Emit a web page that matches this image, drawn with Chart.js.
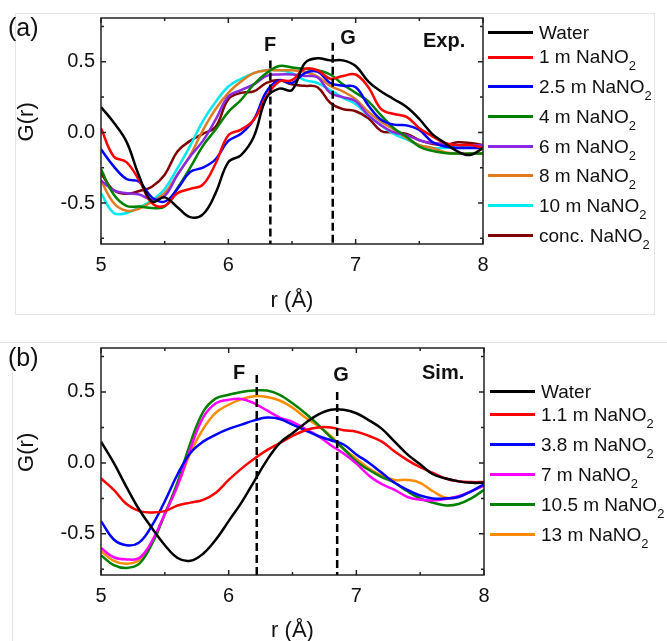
<!DOCTYPE html>
<html>
<head>
<meta charset="utf-8">
<script src="https://cdn.jsdelivr.net/npm/chart.js@4.4.0/dist/chart.umd.min.js"></script>
<style>
  html, body { margin: 0; padding: 0; background: #fff; }
  body { width: 667px; height: 641px; position: relative; overflow: hidden; font-family: "Liberation Sans", Arial, sans-serif; color: #111; }
  .panel { position: absolute; left: 0; width: 667px; height: 320px; }
  .panel canvas { position: absolute; left: 0; top: 0; }
  .tag { position: absolute; left: 8px; font-size: 25px; line-height: 1; }
  .note { position: absolute; font-weight: bold; font-size: 20px; line-height: 1; white-space: nowrap; }
  .center { transform: translateX(-50%); }
  .legend { position: absolute; font-size: 19px; }
  .legend .row { position: absolute; left: 0; height: 0; display: flex; align-items: center; white-space: nowrap; }
  .legend .swatch { display: inline-block; width: 45px; height: 3px; margin-right: 6px; }
  .legend .txt { line-height: 1; }
  .legend sub { font-size: 0.68em; vertical-align: -0.55em; line-height: 0; }
  .frameA { position: absolute; left: 15px; top: 13px; width: 638px; height: 300px; border: 1px solid #e4e4e4; }
  .lineB { position: absolute; left: 0; top: 342px; width: 667px; height: 0; border-top: 1px solid #e4e4e4; }
  .sideB { position: absolute; left: 12px; top: 372px; width: 0; height: 269px; border-left: 1px solid #e4e4e4; }
</style>
</head>
<body>
<div class="frameA"></div>
<div class="lineB"></div>
<div class="sideB"></div>

<div class="panel" style="top:0"><canvas id="chartA" width="667" height="320"></canvas></div>
<div class="panel" style="top:330px"><canvas id="chartB" width="667" height="320"></canvas></div>

<div class="tag" style="top:15px">(a)</div>
<div class="tag" style="top:345px">(b)</div>

<div class="note center" style="left:270px; top:34px">F</div>
<div class="note center" style="left:348px; top:27px">G</div>
<div class="note" style="left:423px; top:30px">Exp.</div>
<div class="note center" style="left:239px; top:362px">F</div>
<div class="note center" style="left:341px; top:364px">G</div>
<div class="note" style="left:422px; top:362px">Sim.</div>

<div class="legend" id="legendA" style="left:488px; top:32px"></div>
<div class="legend" id="legendB" style="left:490px; top:391px"></div>

<script>
// shared r grid (Å)
const r = [5.0, 5.1, 5.2, 5.3, 5.4, 5.5, 5.6, 5.7, 5.8, 5.9, 6.0, 6.1, 6.2, 6.3, 6.4, 6.5,
           6.6, 6.7, 6.8, 6.9, 7.0, 7.1, 7.2, 7.3, 7.4, 7.5, 7.6, 7.7, 7.8, 7.9, 8.0];

const xTicks = [5, 6, 7, 8];
const xMinor = [5.5, 6.5, 7.5];
const yTicks = [-0.5, 0, 0.5];
const yMinor = [-0.75, -0.25, 0.25, 0.75];

// (a) experiment
const namesA = ['Water', '1 m NaNO2', '2.5 m NaNO2', '4 m NaNO2', '6 m NaNO2', '8 m NaNO2', '10 m NaNO2', 'conc. NaNO2'];
const colorsA = ['#000000', '#ff0000', '#0000ff', '#008000', '#8a2be2', '#e07a1f', '#00e8f0', '#800000'];
const waterA = [0.18, 0.07, -0.065, -0.31, -0.49, -0.46, -0.53, -0.60, -0.58, -0.43, -0.21, -0.16, -0.03, 0.245, 0.31, 0.30,
                0.49, 0.525, 0.51, 0.51, 0.47, 0.36, 0.29, 0.235, 0.18, 0.095, -0.01, -0.075, -0.135, -0.16, -0.11];
const m1A = [0.03, -0.17, -0.21, -0.34, -0.50, -0.52, -0.43, -0.40, -0.37, -0.22, -0.02, 0.02, 0.09, 0.255, 0.36, 0.37,
             0.45, 0.44, 0.38, 0.40, 0.41, 0.32, 0.165, 0.13, 0.11, 0.03, -0.026, -0.075, -0.09, -0.09, -0.11];
const m25A = [-0.12, -0.24, -0.33, -0.35, -0.46, -0.49, -0.40, -0.28, -0.25, -0.19, -0.06, -0.01, 0.09, 0.29, 0.37, 0.35,
              0.42, 0.43, 0.35, 0.33, 0.32, 0.19, 0.09, 0.055, 0.05, 0.017, -0.066, -0.10, -0.11, -0.11, -0.11];
const m4A = [-0.26, -0.44, -0.52, -0.525, -0.535, -0.525, -0.395, -0.25, -0.095, 0.02, 0.145, 0.23, 0.34, 0.42, 0.47, 0.46,
             0.45, 0.44, 0.41, 0.34, 0.28, 0.22, 0.12, 0.03, -0.03, -0.10, -0.13, -0.145, -0.15, -0.15, -0.15];
const m6A = [-0.34, -0.41, -0.43, -0.44, -0.475, -0.45, -0.30, -0.17, -0.06, 0.09, 0.255, 0.30, 0.34, 0.40, 0.41, 0.41,
             0.40, 0.39, 0.28, 0.25, 0.22, 0.12, 0.05, 0.0, -0.02, -0.055, -0.075, -0.08, -0.09, -0.09, -0.09];
const m8A = [-0.34, -0.50, -0.555, -0.54, -0.49, -0.43, -0.30, -0.165, 0.015, 0.165, 0.28, 0.36, 0.42, 0.44, 0.44, 0.44,
             0.43, 0.395, 0.33, 0.29, 0.235, 0.145, 0.075, 0.02, -0.04, -0.09, -0.11, -0.14, -0.15, -0.15, -0.15];
const m10A = [-0.43, -0.57, -0.57, -0.53, -0.48, -0.40, -0.255, -0.095, 0.08, 0.215, 0.325, 0.38, 0.42, 0.44, 0.44, 0.42,
              0.37, 0.35, 0.30, 0.245, 0.20, 0.12, 0.05, -0.01, -0.05, -0.09, -0.11, -0.11, -0.105, -0.10, -0.10];
const concA = [-0.29, -0.41, -0.435, -0.415, -0.385, -0.30, -0.135, -0.06, -0.01, 0.04, 0.235, 0.28, 0.29, 0.35, 0.37, 0.34,
               0.33, 0.32, 0.21, 0.165, 0.15, 0.10, 0.01, 0.0, -0.01, -0.055, -0.08, -0.09, -0.07, -0.075, -0.09];
const markRA = [6.33, 6.82];
const markTopA = [0.51, 0.635];

// (b) simulation
const namesB = ['Water', '1.1 m NaNO2', '3.8 m NaNO2', '7 m NaNO2', '10.5 m NaNO2', '13 m NaNO2'];
const colorsB = ['#000000', '#ff0000', '#0000ff', '#ff00ff', '#008000', '#ff8c00'];
const waterB = [0.15, 0.0, -0.17, -0.33, -0.46, -0.58, -0.67, -0.69, -0.64, -0.54, -0.41, -0.28, -0.13, 0.02, 0.14, 0.21,
                0.28, 0.34, 0.375, 0.375, 0.35, 0.30, 0.24, 0.15, 0.06, -0.01, -0.08, -0.11, -0.13, -0.14, -0.14];
const m11B = [-0.11, -0.19, -0.29, -0.34, -0.35, -0.34, -0.30, -0.28, -0.26, -0.21, -0.12, -0.04, 0.03, 0.09, 0.14, 0.19,
              0.23, 0.25, 0.25, 0.23, 0.22, 0.19, 0.15, 0.08, 0.02, -0.03, -0.07, -0.11, -0.13, -0.135, -0.135];
const m38B = [-0.41, -0.54, -0.58, -0.56, -0.44, -0.27, -0.08, 0.07, 0.15, 0.20, 0.24, 0.27, 0.30, 0.32, 0.31, 0.27,
              0.23, 0.19, 0.16, 0.13, 0.06, 0.0, -0.07, -0.14, -0.19, -0.23, -0.25, -0.25, -0.24, -0.20, -0.15];
const m7B = [-0.60, -0.665, -0.68, -0.67, -0.55, -0.36, -0.16, 0.10, 0.32, 0.42, 0.445, 0.45, 0.42, 0.37, 0.32, 0.29,
             0.24, 0.19, 0.125, 0.066, -0.005, -0.09, -0.15, -0.19, -0.24, -0.26, -0.265, -0.255, -0.235, -0.20, -0.16];
const m105B = [-0.65, -0.72, -0.74, -0.71, -0.57, -0.36, -0.135, 0.14, 0.36, 0.455, 0.48, 0.50, 0.51, 0.51, 0.48, 0.42,
               0.35, 0.27, 0.18, 0.10, 0.01, -0.05, -0.10, -0.14, -0.20, -0.25, -0.28, -0.30, -0.29, -0.25, -0.19];
const m13B = [-0.62, -0.69, -0.71, -0.685, -0.56, -0.36, -0.16, 0.07, 0.24, 0.355, 0.41, 0.45, 0.47, 0.465, 0.44, 0.39,
              0.32, 0.26, 0.19, 0.10, 0.03, -0.04, -0.09, -0.12, -0.12, -0.14, -0.20, -0.245, -0.24, -0.20, -0.16];
const markRB = [6.22, 6.85];
const markTopB = [0.62, 0.50];

Chart.defaults.font.family = '"Liberation Sans", Arial, sans-serif';
Chart.defaults.color = '#111';

// box, inward ticks on all sides, dashed F/G markers
const framePlugin = {
  id: 'framePlugin',
  afterDatasetsDraw(chart, args, opts) {
    const { ctx, chartArea: a, scales: { x, y } } = chart;
    ctx.save();
    ctx.strokeStyle = '#000';
    ctx.lineWidth = 2.5;
    ctx.setLineDash([8, 4]);
    opts.markR.forEach((rv, i) => {
      const px = x.getPixelForValue(rv);
      ctx.beginPath();
      ctx.moveTo(px, y.getPixelForValue(opts.markTop[i]));
      ctx.lineTo(px, a.bottom);
      ctx.stroke();
    });
    ctx.setLineDash([]);

    ctx.strokeStyle = '#222';
    ctx.lineWidth = 1.5;
    ctx.strokeRect(a.left, a.top, a.right - a.left, a.bottom - a.top);

    const tick = (vals, len, horizontal) => {
      vals.forEach(v => {
        ctx.beginPath();
        if (horizontal) {
          const px = x.getPixelForValue(v);
          ctx.moveTo(px, a.bottom); ctx.lineTo(px, a.bottom - len);
          ctx.moveTo(px, a.top); ctx.lineTo(px, a.top + len);
        } else {
          const py = y.getPixelForValue(v);
          ctx.moveTo(a.left, py); ctx.lineTo(a.left + len, py);
          ctx.moveTo(a.right, py); ctx.lineTo(a.right - len, py);
        }
        ctx.stroke();
      });
    };
    tick(xTicks, 5, true);
    tick(xMinor, 3, true);
    tick(yTicks, 5, false);
    tick(yMinor, 3, false);
    ctx.restore();
  }
};

function makeChart(id, names, series, colors, markR, markTop, rightPad, xHeight) {
  const datasets = series.map((s, i) => ({
    label: names[i],
    data: s.map((v, j) => ({ x: r[j], y: v })),
    borderColor: colors[i],
    borderWidth: 2.5,
    pointRadius: 0,
    tension: 0.4,
    fill: false
  }));
  return new Chart(document.getElementById(id), {
    type: 'line',
    data: { datasets },
    options: {
      responsive: false,
      animation: false,
      devicePixelRatio: 1,
      layout: { padding: { left: 0, top: 17, right: rightPad, bottom: 0 } },
      plugins: {
        legend: { display: false },
        tooltip: { enabled: false },
        framePlugin: { markR, markTop }
      },
      scales: {
        x: {
          type: 'linear', min: 5, max: 8,
          afterBuildTicks: s => { s.ticks = xTicks.map(v => ({ value: v })); },
          afterFit: s => { s.height = xHeight; },
          grid: { display: false, drawTicks: false },
          border: { display: false },
          ticks: { padding: 9, font: { size: 20 }, callback: v => String(v) },
          title: { display: true, text: 'r (Å)', font: { size: 22 }, padding: { top: 0, bottom: 6 } }
        },
        y: {
          type: 'linear', min: -0.79, max: 0.81,
          afterBuildTicks: s => { s.ticks = yTicks.map(v => ({ value: v })); },
          afterFit: s => { s.width = 101; },
          grid: { display: false, drawTicks: false },
          border: { display: false },
          ticks: { padding: 6, font: { size: 20 }, callback: v => v.toFixed(1) },
          title: { display: true, text: '   G(r)', font: { size: 22 }, padding: { top: 14, bottom: 0 } }
        }
      }
    },
    plugins: [framePlugin]
  });
}

function buildLegend(id, names, colors, gapFirst, gap) {
  const box = document.getElementById(id);
  names.forEach((n, i) => {
    const row = document.createElement('div');
    row.className = 'row';
    row.style.top = (i === 0 ? 0 : gapFirst + (i - 1) * gap) + 'px';
    const sw = document.createElement('span');
    sw.className = 'swatch';
    sw.style.background = colors[i];
    const t = document.createElement('span');
    t.className = 'txt';
    t.innerHTML = n.replace('NaNO2', 'NaNO<sub>2</sub>');
    row.appendChild(sw);
    row.appendChild(t);
    box.appendChild(row);
  });
}

makeChart('chartA', namesA, [waterA, m1A, m25A, m4A, m6A, m8A, m10A, concA], colorsA, markRA, markTopA, 184, 76);
makeChart('chartB', namesB, [waterB, m11B, m38B, m7B, m105B, m13B], colorsB, markRB, markTopB, 183, 75);
buildLegend('legendA', namesA, colorsA, 25, 29.7);
buildLegend('legendB', namesB, colorsB, 23.5, 30);
</script>
</body>
</html>
